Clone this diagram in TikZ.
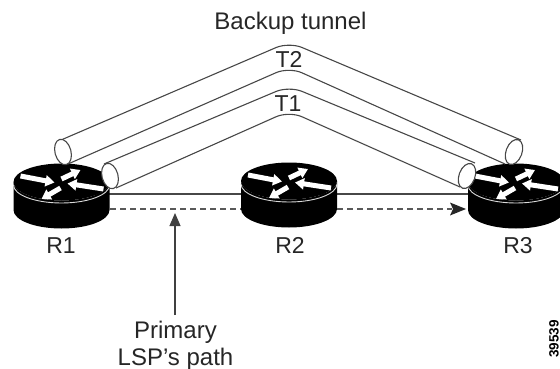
\documentclass[tikz,border=0pt]{standalone}
\usepackage{fontspec}
\setmainfont{Liberation Sans}
\usetikzlibrary{arrows.meta}
\tikzset{
  lbl/.style={font=\fontsize{24}{27}\selectfont, text=black!85, inner sep=0pt, anchor=base},
  rlbl/.style={font=\fontsize{23}{27}\selectfont, text=black!85, inner sep=0pt, anchor=base},
  tube/.style={draw=black!72, line width=1.1pt, rounded corners=14pt},
  tubeend/.style={draw=black!72, line width=1.1pt, fill=white},
  link/.style={draw=black!72, line width=1.1pt},
  dashlink/.style={draw=black!65, line width=1.6pt, dash pattern=on 6pt off 4pt},
  rarrow/.style={white, line width=5pt, -{Triangle[length=9pt,width=11pt]}},
  routerbody/.style={fill=black}
}
\newcommand{\routericon}[3]{%
  \coordinate (#1) at (#2,#3);
  \fill[routerbody] (#2-48,#3) -- (#2-48,#3+28) arc[start angle=180,end angle=360,x radius=48pt,y radius=18.5pt]
     -- (#2+48,#3) arc[start angle=0,end angle=-180,x radius=48pt,y radius=18.5pt] -- cycle;
  \fill[routerbody] (#2,#3) ellipse[x radius=48pt,y radius=18.5pt];
  \draw[white!85!black,line width=0.9pt] (#2-48,#3+3) arc[start angle=180,end angle=360,x radius=48pt,y radius=18pt];
  \draw[rarrow] (#2-41,#3-6) -- (#2-7,#3+0.5);
  \draw[rarrow] (#2+42,#3+7) -- (#2+6,#3+1.5);
  \draw[rarrow] (#2,#3-3) -- (#2+19,#3-12);
  \draw[rarrow] (#2-1,#3+6) -- (#2-20,#3+17);
}
\begin{document}
\begin{tikzpicture}[x=1pt,y=-1pt]
\useasboundingbox (0,0) rectangle (560,369);
% links behind routers
\coordinate (A1) at (61,194);
\coordinate (A3) at (516,194);
\draw[link] (A1) -- (A3);
% routers
\routericon{R1}{61.5}{182}
\routericon{R2}{289}{181}
\routericon{R3}{516}{182}
% dashed primary path
\coordinate (P1) at (110,209);
\coordinate (P2a) at (241,209);
\coordinate (P2b) at (337,209);
\coordinate (P3) at (466,209);
\draw[dashlink] (P1) -- (P2a);
\draw[dashlink] (P2b) -- (452,209);
\fill[black!85] (P3) -- (450,202.5) -- (453,209) -- (450,215.5) -- cycle;
% tunnels
\coordinate (T2a) at (61,140);
\coordinate (T2b) at (68,164);
\coordinate (T1a) at (104,164);
\coordinate (T1b) at (116,188);
\coordinate (T2c) at (521,140);
\coordinate (T2d) at (505,164);
\coordinate (T1c) at (475,163);
\coordinate (T1d) at (460,187);
\draw[tube] (T2a) -- (289,42) -- (T2c);
\draw[tube] (T2b) -- (289,67) -- (T2d);
\draw[tube] (T1a) -- (289,86) -- (T1c);
\draw[tube] (T1b) -- (289,111) -- (T1d);
\draw[tubeend] (63,152) ellipse[x radius=8pt,y radius=13pt,rotate=15];
\draw[tubeend] (110,176) ellipse[x radius=8pt,y radius=13pt,rotate=15];
\draw[tubeend] (514,152) ellipse[x radius=8pt,y radius=13pt,rotate=-20];
\draw[tubeend] (467,176) ellipse[x radius=8pt,y radius=13pt,rotate=-20];
% labels
\node[lbl] (bt) at (290.5,30) {Backup tunnel};
\node[rlbl] (t2) at (289,67) {T2};
\node[rlbl] (t1) at (288,112) {T1};
\node[rlbl] (r1) at (61,253) {R1};
\node[rlbl] (r2) at (290,253) {R2};
\node[rlbl] (r3) at (518,253) {R3};
\node[lbl] (prim) at (175.5,338) {Primary};
\node[lbl] (lsp) at (175.5,365) {LSP's path};
\node[font=\fontsize{13.5}{14}\selectfont\bfseries, inner sep=0pt, rotate=90] (num) at (554,339) {39539};
% arrow to path
\coordinate (Q) at (175,213);
\coordinate (Q0) at (175,315);
\draw[line width=1.1pt, draw=black!75, -{Triangle[length=13pt,width=11pt]}] (Q0) -- (Q);
\end{tikzpicture}
\end{document}
